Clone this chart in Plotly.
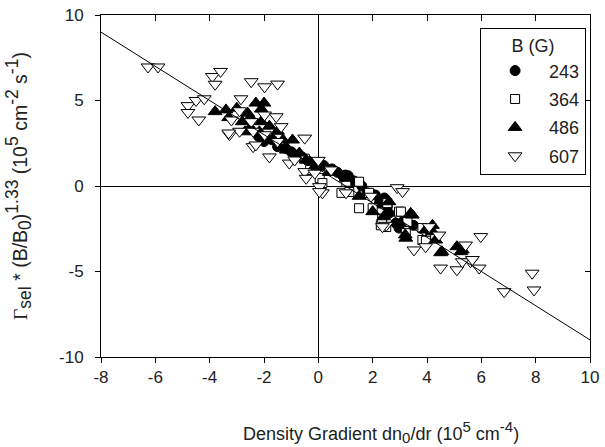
import plotly.graph_objects as go

# B = 243 G (filled circles)
b243_x = [-2.5, -2.2, -2.0, -1.7, -1.5, -1.2, -1.0, -0.8, -0.6, -0.4, -0.1, 0.2, 0.5, 0.7, 0.9, 1.1,
          1.3, 1.6, 1.8, 2.0, 2.1, 2.25, 2.43, 2.54, 2.6, 2.85, 2.97, 3.2, 3.5, 1.0]
b243_y = [3.3, 2.9, 2.6, 2.7, 2.3, 2.2, 2.0, 1.8, 1.7, 1.5, 1.3, 1.2, 1.0, 0.8, 0.6, 0.6,
          0.3, 0.0, -0.4, -0.5, -0.53, -1.0, -0.7, -1.2, -1.6, -2.17, -2.46, -1.9, -2.3, 0.64]

# B = 364 G (open squares)
b364_x = [-0.3, 0.05, 0.15, 0.85, 1.03, 1.14, 1.5, 1.5, 1.87, 2.3, 2.35, 2.5, 2.54, 2.97, 3.04,
          3.28, 3.22, 3.83, 3.83, 3.96, 4.1, 4.3, -0.5, 0.4, 2.0]
b364_y = [0.94, 0.46, 0.17, -0.4, 0.25, -0.35, 0.25, -1.3, -0.4, -2.3, -1.9, -2.4, -1.0, -1.5, -1.5,
          -2.1, -2.76, -2.46, -3.16, -3.2, -2.5, -3.0, 1.6, 0.9, -1.3]

# B = 486 G (filled triangles)
b486_x = [-3.8, -3.4, -3.0, -2.6, -2.3, -2.0, -2.1, -2.8, -2.1, -2.7, -2.17, -1.68, -1.3, -0.95,
          -1.18, -0.7, -0.45, -0.13, -3.3, -2.5, -1.5, -1.8, 1.02, 2.0, 2.4, 2.6, 3.4, 3.46, 3.2,
          3.22, 3.95, 4.2, 4.32, 4.5, 4.55, 5.1, 5.25, 5.3, 4.2, 0.4, 1.5, 3.0]
b486_y = [4.35, 4.45, 4.55, 4.26, 4.85, 4.85, 4.5, 3.76, 3.76, 3.17, 3.17, 2.69, 2.69, 2.69,
          2.1, 1.93, 1.52, 1.13, 4.0, 4.0, 3.2, 3.5, 0.45, -1.5, -1.8, -0.92, -1.6, -1.7, -2.86,
          -3.05, -2.57, -2.67, -3.16, -3.9, -3.84, -3.55, -3.84, -3.74, -2.3, 0.8, -0.6, -2.2]

# B = 607 G (open down-triangles)
b607_x = [-6.27, -5.9, -3.9, -3.6, -3.8, -2.47, -1.98, -1.5, -4.8, -4.5, -4.2, -4.8, -4.4,
          -3.27, -2.4, -1.8, -2.85, -3.2, -2.9, -3.3, -2.9, -2.47, -2.4, -1.98, -2.3, -1.98,
          -1.55, -1.37, -1.5, -1.07, -0.5, 0.0, -0.87, -0.5, -0.45, -0.13, 0.15, 0.04, 0.47,
          0.04, 1.02, 2.9, 2.5, 1.94, 2.36, 3.1, 3.52, 3.95, 4.5, 5.1, 5.42, 5.98, 5.6, 5.92,
          5.3, 6.84, 7.87, 7.94, 4.08, 4.44, 5.67]
b607_y = [6.96, 6.96, 6.4, 6.7, 5.95, 6.1, 5.8, 5.96, 4.7, 5.0, 5.1, 4.3, 3.86,
          3.0, 2.3, 1.7, 5.1, 3.86, 3.2, 3.1, 4.4, 3.76, 3.2, 4.15, 2.4, 3.0,
          4.05, 3.47, 2.6, 1.34, 2.8, 1.5, 1.52, 0.84, 0.45, 0.75, -0.4, -0.04, 0.94,
          -0.33, -0.4, -0.1, -2.3, -0.6, -2.38, -0.33, -3.74, -3.55, -4.8, -4.9, -3.45, -2.96, -4.43, -4.8,
          -4.43, -6.18, -5.1, -6.08, -2.38, -2.87, -4.3]

# regression line
fit_x = [-8, 10]
fit_y = [9, -9]

x_ticks = [-8, -6, -4, -2, 0, 2, 4, 6, 8, 10]
x_ticktext = ["-8", "-6", "-4", "-2", "0", "2", "4", "6", "8", "10"]
y_ticks = [-10, -5, 0, 5, 10]
y_ticktext = ["-10", "-5", "0", "5", "10"]

FONT = "Liberation Sans, Arial, sans-serif"
INK = "#222222"

fig = go.Figure()
fig.add_trace(go.Scatter(x=b243_x, y=b243_y, mode="markers", name="243", legendgroup="a",
                         marker=dict(symbol="circle", size=10, color="black",
                                     line=dict(color="black", width=1))))
fig.add_trace(go.Scatter(x=b364_x, y=b364_y, mode="markers", name="364", legendgroup="b",
                         marker=dict(symbol="square", size=9, color="white",
                                     line=dict(color="black", width=1))))
fig.add_trace(go.Scatter(x=b486_x, y=b486_y, mode="markers", name="486", legendgroup="c",
                         marker=dict(symbol="triangle-up", size=12, color="black",
                                     line=dict(color="black", width=1))))
fig.add_trace(go.Scatter(x=b607_x, y=b607_y, mode="markers", name="607", legendgroup="d",
                         marker=dict(symbol="triangle-down", size=12, color="white",
                                     line=dict(color="black", width=1))))
fig.add_trace(go.Scatter(x=fit_x, y=fit_y, mode="lines", line=dict(color="black", width=1),
                         xaxis="x2", yaxis="y2", showlegend=False, hoverinfo="skip"))

S = "<span style='font-size:17.5px'>"
ytitle = ("<span style='font-family:Liberation Serif'>Γ</span><sub>" + S + "sel</span></sub> * (B/B<sub>" + S + "0</span></sub>)"
          "<sup>" + S + "1.33</span></sup> (10<sup>" + S + "5</span></sup> cm<sup>" + S + "-2</span></sup> s<sup>" + S + "-1</span></sup>)")
S2 = "<span style='font-size:15px'>"
xtitle = ("Density Gradient dn<sub>" + S2 + "0</span></sub>/dr (10<sup>" + S2 + "5</span></sup> cm<sup>" + S2 + "-4</span></sup>)")

fig.update_layout(
    width=605, height=447,
    margin=dict(l=101, r=15, t=15, b=90),
    paper_bgcolor="white", plot_bgcolor="white",
    font=dict(family=FONT, size=17, color=INK),
    showlegend=True,
    legend=dict(
        title=dict(text="B (G)", side="top center", font=dict(size=18)),
        x=0.992, y=0.962, xanchor="right", yanchor="top",
        bordercolor="black", borderwidth=1, bgcolor="white",
        tracegroupgap=2, font=dict(size=18),
        itemwidth=58,
    ),
    xaxis=dict(
        range=[-8, 10], tickvals=x_ticks, ticktext=x_ticktext, automargin=False,
        showgrid=False, zeroline=True, zerolinecolor="black", zerolinewidth=1,
        showline=True, linecolor="black", linewidth=1, mirror=True,
        ticks="outside", ticklen=5, tickcolor="black", tickfont=dict(size=17),
    ),
    yaxis=dict(
        range=[-10, 10], tickvals=y_ticks, ticktext=y_ticktext, automargin=False,
        showgrid=False, zeroline=True, zerolinecolor="black", zerolinewidth=1,
        showline=True, linecolor="black", linewidth=1, mirror=True,
        ticks="outside", ticklen=5, tickcolor="black", ticklabelstandoff=8, tickfont=dict(size=17),
        title=dict(text=ytitle, standoff=26, font=dict(size=19.5)),
    ),
    xaxis2=dict(range=[-8, 10], tickvals=x_ticks, overlaying="x", automargin=False,
                side="top", showticklabels=False, ticks="inside", ticklen=6, tickcolor="black",
                showgrid=False, zeroline=False, showline=False),
    yaxis2=dict(range=[-10, 10], tickvals=y_ticks, overlaying="y", automargin=False,
                side="right", showticklabels=False, ticks="inside", ticklen=5, tickcolor="black",
                showgrid=False, zeroline=False, showline=False),
    annotations=[dict(text=xtitle, xref="paper", yref="paper", x=0.5726, y=-0.219,
                      xanchor="center", yanchor="middle", showarrow=False,
                      font=dict(size=18, family=FONT, color=INK))],
)

fig.write_html("out.html", config={"displayModeBar": False, "staticPlot": True},
               post_script="document.body.style.margin='0';document.body.style.overflow='hidden';")
